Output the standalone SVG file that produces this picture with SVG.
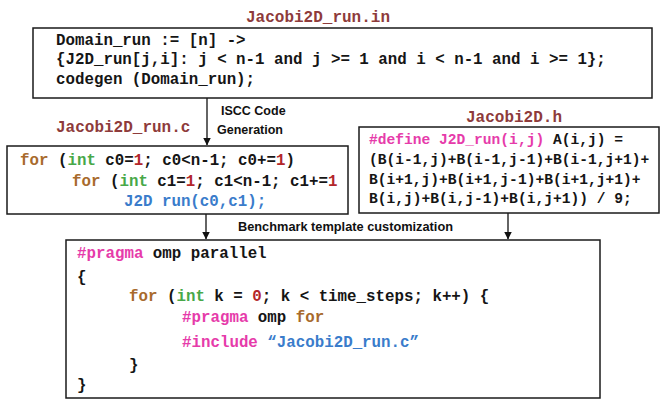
<svg xmlns="http://www.w3.org/2000/svg" width="664" height="401" viewBox="0 0 664 401">
<defs>
<style>
.box{fill:#fff;stroke:#1a1a1a;stroke-width:1.5}
.code{font-family:"Liberation Mono","Courier New",monospace;font-weight:bold;fill:#151515}
.t16{font-size:15.8px}
.t15{font-size:14.6px}
.title{font-family:"Liberation Mono","Courier New",monospace;font-weight:bold;font-size:16px;fill:#8E3B3B}
.lbl{font-family:"Liberation Sans",Arial,sans-serif;font-weight:bold;font-size:12.5px;fill:#111}
.kw{fill:#A86A2C}
.ty{fill:#48A848}
.num{fill:#B3262A}
.bl{fill:#3A7CCB}
.pk{fill:#E63BAA}
.conn{stroke:#111;stroke-width:1.3;fill:none}
</style>
<marker id="ah" markerWidth="8" markerHeight="9" refX="7.5" refY="4.5" orient="auto" markerUnits="userSpaceOnUse">
<path d="M0,0.5 L8,4.5 L0,8.5 Z" fill="#111"/>
</marker>
</defs>
<rect width="664" height="401" fill="#fff"/>

<g id="connectors">
<line class="conn" x1="207" y1="98" x2="207" y2="145" marker-end="url(#ah)"/>
<line class="conn" x1="206" y1="214" x2="206" y2="239" marker-end="url(#ah)"/>
<line class="conn" x1="508" y1="213" x2="508" y2="239" marker-end="url(#ah)"/>
<text class="lbl" x="221" y="115">ISCC Code</text>
<text class="lbl" x="217" y="134">Generation</text>
<text class="lbl" x="238" y="231" textLength="215" lengthAdjust="spacingAndGlyphs">Benchmark template customization</text>
</g>

<g id="jacobi2d_run_in">
<text class="title" x="246" y="22">Jacobi2D_run.in</text>
<rect class="box" x="33" y="28" width="619" height="70"/>
<text class="code t16" x="56" y="45" xml:space="preserve">Domain_run := [n] -&gt;</text>
<text class="code t16" x="56" y="64" xml:space="preserve">{J2D_run[j,i]: j &lt; n-1 and j &gt;= 1 and i &lt; n-1 and i &gt;= 1};</text>
<text class="code t16" x="56" y="84" xml:space="preserve">codegen (Domain_run);</text>
</g>

<g id="jacobi2d_run_c">
<text class="title" x="56" y="132">Jacobi2D_run.c</text>
<rect class="box" x="7" y="146" width="341" height="68"/>
<text class="code t16" x="20" y="165" xml:space="preserve"><tspan class="kw">for</tspan> (<tspan class="ty">int</tspan> c0=<tspan class="num">1</tspan>; c0&lt;n-1; c0+=<tspan class="num">1</tspan>)</text>
<text class="code t16" x="72" y="186" xml:space="preserve"><tspan class="kw">for</tspan> (<tspan class="ty">int</tspan> c1=<tspan class="num">1</tspan>; c1&lt;n-1; c1+=<tspan class="num">1</tspan></text>
<text class="code t16 bl" x="124" y="206" xml:space="preserve">J2D run(c0,c1);</text>
</g>

<g id="jacobi2d_h">
<text class="title" x="466" y="122">Jacobi2D.h</text>
<rect class="box" x="359" y="127" width="300" height="86"/>
<text class="code t15" x="369" y="144" xml:space="preserve"><tspan class="pk">#define J2D_run(i,j)</tspan> A(i,j) =</text>
<text class="code t15" x="369" y="164" xml:space="preserve">(B(i-1,j)+B(i-1,j-1)+B(i-1,j+1)+</text>
<text class="code t15" x="369" y="184" xml:space="preserve">B(i+1,j)+B(i+1,j-1)+B(i+1,j+1)+</text>
<text class="code t15" x="369" y="203" xml:space="preserve">B(i,j)+B(i,j-1)+B(i,j+1)) / 9;</text>
</g>

<g id="template">
<rect class="box" x="66" y="240" width="534" height="158"/>
<text class="code t16" x="77" y="258" xml:space="preserve"><tspan class="pk">#pragma</tspan> omp parallel</text>
<text class="code t16" x="77" y="282">{</text>
<text class="code t16" x="129" y="301" xml:space="preserve"><tspan class="kw">for</tspan> (<tspan class="ty">int</tspan> k = <tspan class="num">0</tspan>; k &lt; time_steps; k++) {</text>
<text class="code t16" x="182" y="322" xml:space="preserve"><tspan class="pk">#pragma</tspan> omp <tspan class="kw">for</tspan></text>
<text class="code t16" x="182" y="347" xml:space="preserve"><tspan class="pk">#include</tspan> <tspan class="bl">“Jacobi2D_run.c”</tspan></text>
<text class="code t16" x="129" y="370">}</text>
<text class="code t16" x="77" y="390">}</text>
</g>
</svg>
